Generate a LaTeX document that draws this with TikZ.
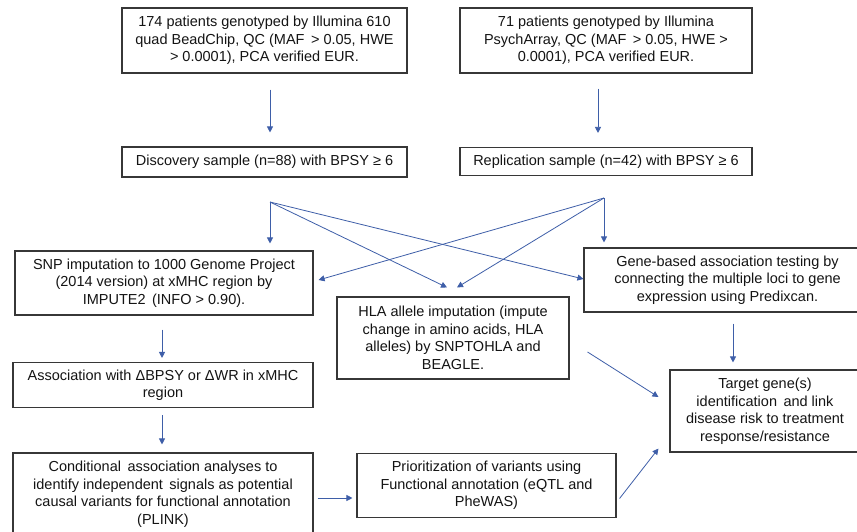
\documentclass[tikz,border=0pt]{standalone}
\usepackage{fontspec}
\setmainfont{Liberation Sans}
\usetikzlibrary{arrows.meta}
\definecolor{arrowblue}{RGB}{62,94,168}
\definecolor{boxline}{RGB}{55,55,55}
\definecolor{txt}{RGB}{20,20,20}
\tikzset{
  box/.style={draw=boxline, line width=1.1pt, fill=white, align=center, inner sep=2pt,
    text=txt, font=\fontsize{14.5}{17.5}\selectfont},
  arr/.style={draw=arrowblue, line width=0.8pt, -{Triangle[length=6pt,width=6pt]}},
}
\begin{document}
\begin{tikzpicture}[x=1pt,y=-1pt]
\useasboundingbox[fill=white] (0,0) rectangle (857,532);
% boxes
\node[box, minimum width=285, minimum height=65] (A) at (264.5,40.5)
  {174 patients genotyped by Illumina 610\\quad BeadChip, QC (MAF \,> 0.05, HWE\\> 0.0001), PCA verified EUR.};
\node[box, minimum width=292, minimum height=65] (B) at (606,40.5)
  {71 patients genotyped by Illumina\\PsychArray, QC (MAF \,> 0.05, HWE >\\0.0001), PCA verified EUR.};
\node[box, minimum width=285, minimum height=30] (C) at (264.5,162)
  {Discovery sample (n=88) with BPSY ≥ 6};
\node[box, minimum width=292, minimum height=28] (D) at (606,161.5)
  {Replication sample (n=42) with BPSY ≥ 6};
\node[box, minimum width=298, minimum height=64] (SNP) at (164,283)
  {SNP imputation to 1000 Genome Project\\(2014 version) at xMHC region by\\IMPUTE2 \,(INFO > 0.90).};
\node[box, minimum width=287, minimum height=64] (Gene) at (727.5,280)
  {Gene-based association testing by\\connecting the multiple loci to gene\\expression using Predixcan.};
\node[box, minimum width=232, minimum height=82] (HLA) at (453,338)
  {HLA allele imputation (impute\\change in amino acids, HLA\\alleles) by SNPTOHLA and\\BEAGLE.};
\node[box, minimum width=300, minimum height=45] (Assoc) at (163,385)
  {Association with ΔBPSY or ΔWR in xMHC\\region};
\node[box, minimum width=300, minimum height=82] (Cond) at (163,494)
  {Conditional \,association analyses to\\identify independent \,signals as potential\\causal variants for functional annotation\\(PLINK)};
\node[box, minimum width=259, minimum height=64] (Prior) at (486.5,485.5)
  {Prioritization of variants using\\Functional annotation (eQTL and\\PheWAS)};
\node[box, minimum width=190, minimum height=82] (Target) at (765,411)
  {Target gene(s)\\identification \,and link\\disease risk to treatment\\response/resistance};
% fork points
\coordinate (fL) at (270,202);
\coordinate (fR) at (604,198);
% connectors
\draw[arr, shorten <=16pt, shorten >=14pt] (A.south -| fL) -- (C.north -| fL);
\draw[arr, shorten <=15pt, shorten >=14pt] ([xshift=-8pt]B.south) -- ([xshift=-8pt]D.north);
\draw[arr, shorten >=7pt] (fL) -- (SNP.north -| fL);
\draw[arr] (fL) -- ([yshift=1pt]Gene.west);
\draw[arr] (fL) -- ([xshift=-6pt,yshift=9pt]HLA.north);
\draw[arr, shorten >=5pt] (fR) -- (Gene.north -| fR);
\draw[arr] (fR) -- ([xshift=5pt,yshift=3pt]SNP.east);
\draw[arr] (fR) -- ([xshift=4pt,yshift=9pt]HLA.north);
\draw[arr, shorten <=14pt, shorten >=4pt] (SNP.south -| 162,0) -- (Assoc.north -| 162,0);
\draw[arr, shorten <=7pt, shorten >=8pt] (Assoc.south -| 162,0) -- (Cond.north -| 162,0);
\draw[arr, shorten <=4pt, shorten >=4pt] ([yshift=-4pt]Cond.east) -- ([yshift=-4pt]Cond.east -| Prior.west);
\draw[arr, shorten <=11pt, shorten >=7pt] (Gene.south -| 733,0) -- (Target.north -| 733,0);
\draw[arr] ([xshift=18pt,yshift=-14pt]HLA.east) -- ([xshift=-11pt,yshift=14pt]Target.west);
\draw[arr] ([xshift=3pt,yshift=-13pt]Prior.east) -- ([xshift=-11pt,yshift=4pt]Target.south west);
\end{tikzpicture}
\end{document}
